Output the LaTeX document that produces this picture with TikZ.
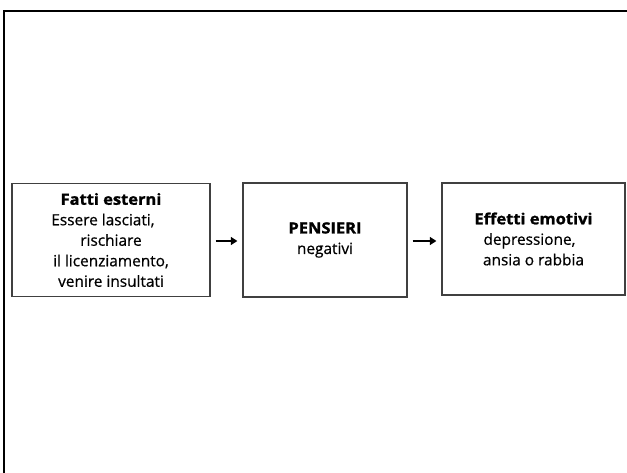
\documentclass[tikz,border=0pt]{standalone}
\usepackage{fontspec}
\setmainfont{Open Sans}[
  UprightFeatures={FakeBold=0.6},
  BoldFeatures={FakeBold=1.4,FakeStretch=1.07}]
\usetikzlibrary{arrows.meta}
\begin{document}
\begin{tikzpicture}[x=1pt,y=-1pt,
  box/.style={draw=black!75, line width=1.3pt, rectangle, inner sep=0pt,
    align=center, font=\fontsize{15.4}{20.5}\selectfont},
  flow/.style={line width=1.6pt, -{Triangle[length=6.5pt,width=8pt]}}]
  \useasboundingbox (0,0) rectangle (627,473);
  % outer frame (top and left edges)
  \draw[line width=2pt] (627,11.5) -- (4,11.5) -- (4,473);
  % the three stages
  \node[box, minimum width=198pt, minimum height=113pt] (fatti) at (111,240)
    {\textbf{Fatti esterni}\\Essere lasciati,\hphantom{xx}\\rischiare\\il licenziamento,\\venire insultati};
  \node[box, minimum width=164pt, minimum height=114pt] (pensieri) at (325,240)
    {\textbf{PENSIERI}\\negativi};
  \node[box, minimum width=183pt, minimum height=112pt] (effetti) at (533.5,239)
    {\textbf{Effetti emotivi}\\depressione,\hphantom{x}\\ansia o rabbia};
  % connectors
  \draw[flow] ([xshift=5pt]fatti.east |- 0,241) -- ([xshift=-5pt]pensieri.west |- 0,241);
  \draw[flow] ([xshift=5pt]pensieri.east |- 0,241) -- ([xshift=-5pt]effetti.west |- 0,241);
\end{tikzpicture}
\end{document}
